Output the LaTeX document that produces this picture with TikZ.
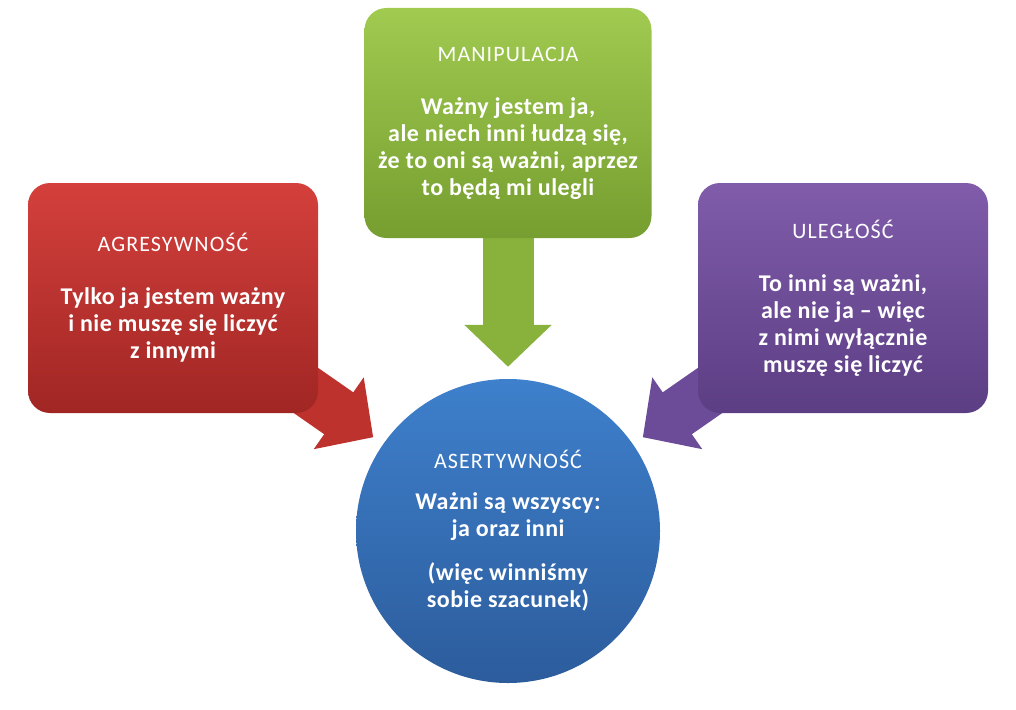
\documentclass[tikz,border=0pt]{standalone}
\usepackage{fontspec}
\setmainfont{Carlito}
\usetikzlibrary{arrows.meta,backgrounds}

\definecolor{redtop}{RGB}{212,64,60}
\definecolor{redbot}{RGB}{160,38,36}
\definecolor{redarr}{RGB}{190,50,46}
\definecolor{greentop}{RGB}{160,202,80}
\definecolor{greenbot}{RGB}{118,158,48}
\definecolor{greenarr}{RGB}{136,178,60}
\definecolor{violettop}{RGB}{128,92,170}
\definecolor{violetbot}{RGB}{92,62,132}
\definecolor{violetarr}{RGB}{108,76,152}
\definecolor{bluetop}{RGB}{62,128,204}
\definecolor{bluebot}{RGB}{44,92,156}

\newcommand{\headtxt}[1]{{\fontsize{22}{24}\selectfont\mdseries\addfontfeature{LetterSpace=5}#1}}

\begin{document}
\begin{tikzpicture}[x=1pt,y=-1pt]
    \tikzset{
      card/.style={rounded corners=22pt,minimum width=290pt,minimum height=230pt,
        align=center,text=white,font=\fontsize{24}{27}\selectfont\bfseries\addfontfeature{LetterSpace=2}},
      ball/.style={circle,minimum size=304pt,inner sep=0pt,align=center,text=white,
        font=\fontsize{24}{27}\selectfont\bfseries\addfontfeature{LetterSpace=2},
        top color=bluetop,bottom color=bluebot},
      pointer/.style={draw=#1,line width=51pt,-{Triangle[length=42pt,width=85pt]},shorten >=12pt}
    }
    \useasboundingbox (0,0) rectangle (1016,709);

    \node[card,top color=redtop,bottom color=redbot] (agr) at (173,298)
      {\headtxt{AGRESYWNOŚĆ}\\[26pt]Tylko ja jestem ważny\\i nie muszę się liczyć\\z innymi};
    \node[card,minimum width=287pt,top color=greentop,bottom color=greenbot] (man) at (508,123)
      {\headtxt{MANIPULACJA}\\[26pt]Ważny jestem ja,\\ale niech inni łudzą się,\\że to oni są ważni, aprzez\\to będą mi ulegli};
    \node[card,top color=violettop,bottom color=violetbot] (ule) at (843,298)
      {\headtxt{ULEGŁOŚĆ}\\[26pt]To inni są ważni,\\ale nie ja – więc\\z nimi wyłącznie\\muszę się liczyć};
    \node[ball] (ase) at (508,531)
      {\headtxt{ASERTYWNOŚĆ}\\[14pt]Ważni są wszyscy:\\ja oraz inni\\[17pt](więc winniśmy\\sobie szacunek)};

    % arrows behind the cards
    \begin{scope}[on background layer]
      \draw[pointer=redarr] (agr.center) -- (ase);
      \draw[pointer=greenarr] (man.center) -- (ase);
      \draw[pointer=violetarr] (ule.center) -- (ase);
    \end{scope}
  \end{tikzpicture}
\end{document}
